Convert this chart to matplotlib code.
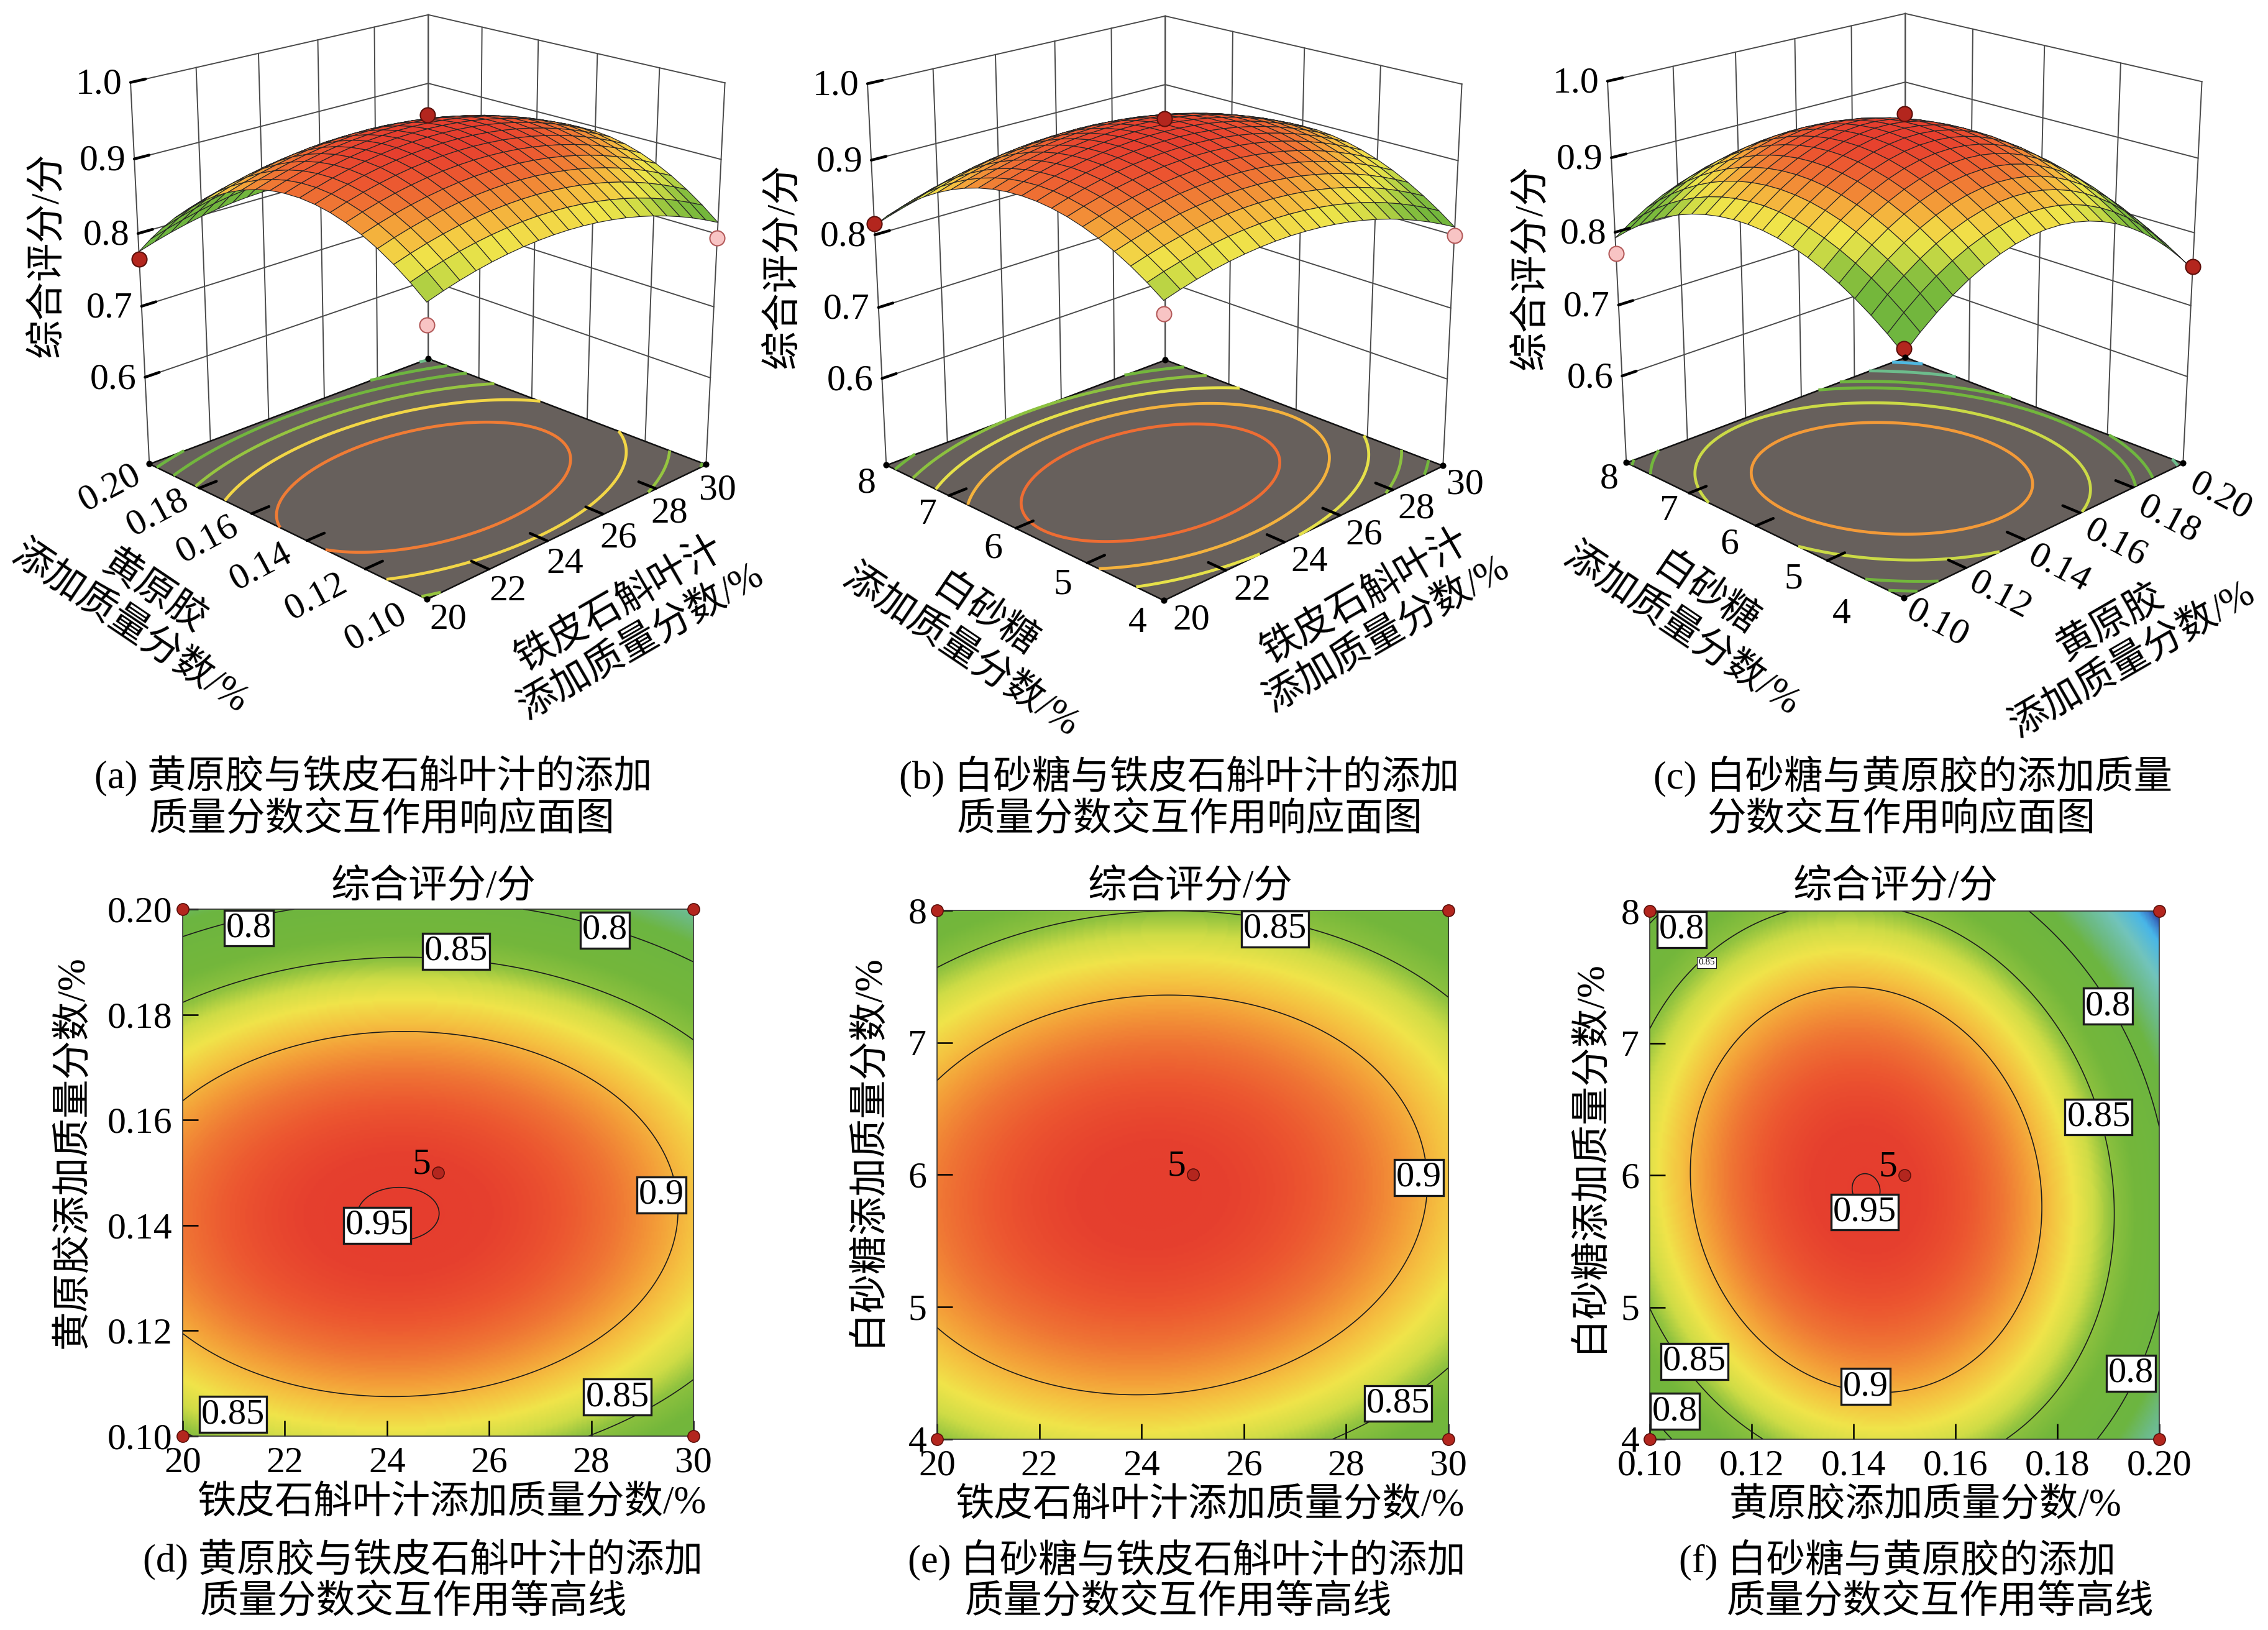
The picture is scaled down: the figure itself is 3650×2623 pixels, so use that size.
import numpy as np
import matplotlib
matplotlib.use("Agg")
import matplotlib.pyplot as plt
from matplotlib.colors import LinearSegmentedColormap, Normalize
from mpl_toolkits.mplot3d import proj3d
from mpl_toolkits.mplot3d.art3d import Poly3DCollection

plt.rcParams['font.family'] = ['Liberation Serif', 'Noto Sans CJK SC']
plt.rcParams['axes.unicode_minus'] = False

W, H, DPI = 3650, 2623, 100
fig = plt.figure(figsize=(W / DPI, H / DPI), dpi=DPI, facecolor='white')

# ------------------------------------------------------------------ data
A_lim = (20.0, 30.0)      # 铁皮石斛叶汁添加质量分数/%
B_lim = (0.10, 0.20)      # 黄原胶添加质量分数/%
C_lim = (4.0, 8.0)        # 白砂糖添加质量分数/%
A_ticks = [20, 22, 24, 26, 28, 30]
B_ticks = [0.10, 0.12, 0.14, 0.16, 0.18, 0.20]
C_ticks = [4, 5, 6, 7, 8]
Z_ticks = [0.6, 0.7, 0.8, 0.9, 1.0]
Z_floor, Z_top = 0.4747, 1.0

# quadratic response-surface model (coded units)
b0 = 0.9475
b_lin = [-0.0128, -0.033, -0.012]      # A, B, C
b_int = [0.003, 0.007, -0.0163]        # AB, AC, BC
b_sq = [-0.0426, -0.1065, -0.086]      # A^2, B^2, C^2

# design points shown on the 3-D plots (actual scores)
pts_a_x = [20, 20, 30, 30, 25]
pts_a_y = [0.20, 0.10, 0.10, 0.20, 0.15]
pts_a_z = [0.765, 0.82, 0.795, 0.75, 0.958]
pts_a_up = [1, 0, 0, 0, 1]

pts_b_x = [20, 20, 30, 30, 25]
pts_b_y = [8, 4, 4, 8, 6]
pts_b_z = [0.815, 0.835, 0.80, 0.79, 0.955]
pts_b_up = [1, 0, 0, 0, 1]

pts_c_x = [0.10, 0.10, 0.20, 0.20, 0.15]
pts_c_y = [8, 4, 4, 8, 6]
pts_c_z = [0.771, 0.79, 0.754, 0.69, 0.958]
pts_c_up = [0, 1, 1, 0, 1]

# contour levels projected on the floor of each 3-D plot
floor_levels_a = [0.762, 0.79, 0.82, 0.853, 0.886, 0.918]
floor_levels_b = [0.826, 0.850, 0.875, 0.900, 0.924]
floor_levels_c = [0.72, 0.76, 0.80, 0.822, 0.865, 0.907]

# contour labels shown on the 2-D plots: (value, x, y)
lab_d_val = ['0.8', '0.8', '0.85', '0.9', '0.95', '0.85', '0.85']
lab_d_x = [21.29, 28.27, 25.35, 29.37, 23.81, 20.98, 28.51]
lab_d_y = [0.1964, 0.1960, 0.1920, 0.1458, 0.1400, 0.1041, 0.1074]
lab_e_val = ['0.85', '0.9', '0.85']
lab_e_x = [26.61, 29.42, 29.02]
lab_e_y = [7.86, 5.98, 4.27]
lab_f_val = ['0.8', '0.8', '0.85', '0.95', '0.9', '0.85', '0.8', '0.8']
lab_f_x = [0.1063, 0.1899, 0.1881, 0.1422, 0.1424, 0.1088, 0.1049, 0.1944]
lab_f_y = [7.86, 7.28, 6.44, 5.72, 4.40, 4.59, 4.21, 4.50]
lab_f_small_val = ['0.85']
lab_f_small_x = [0.1112]
lab_f_small_y = [7.61]

# colour scale
cm_vals = [0.665, 0.695, 0.705, 0.715, 0.740, 0.765, 0.785, 0.832, 0.852,
           0.866, 0.880, 0.895, 0.908, 0.921, 0.934, 0.946, 0.960]
cm_cols = ['#28348e', '#2a3a94', '#3d80cc', '#48b6e8', '#72c4bc', '#6cba80',
           '#6cb541', '#74b73b', '#8fc23f', '#cfdc46', '#f0e44a', '#f5c040',
           '#f39a38', '#ef7434', '#ec5530', '#e6402e', '#e43a2e']
vmin, vmax = cm_vals[0], cm_vals[-1]
cmap = LinearSegmentedColormap.from_list(
    'de', [((v - vmin) / (vmax - vmin), c) for v, c in zip(cm_vals, cm_cols)])
norm = Normalize(vmin, vmax)

FLOOR_COLOR = '#67605c'
RED, RED_E = '#b3261e', '#5c0f0a'
PINK, PINK_E = '#f8c4c4', '#b35a5a'
FS = 43
FSC = 45


def coded(v, lim):
    return (v - (lim[0] + lim[1]) / 2) / ((lim[1] - lim[0]) / 2)


def predict(A, B, C):
    a, b, c = coded(A, A_lim), coded(B, B_lim), coded(C, C_lim)
    return (b0 + b_lin[0] * a + b_lin[1] * b + b_lin[2] * c
            + b_int[0] * a * b + b_int[1] * a * c + b_int[2] * b * c
            + b_sq[0] * a * a + b_sq[1] * b * b + b_sq[2] * c * c)


A0, B0, C0 = np.mean(A_lim), np.mean(B_lim), np.mean(C_lim)
f_ab = lambda x, y: predict(x, y, C0)     # x = A, y = B
f_ac = lambda x, y: predict(x, B0, y)     # x = A, y = C
f_bc = lambda x, y: predict(A0, x, y)     # x = B, y = C


def ftxt(x, y, s, **kw):
    kw.setdefault('fontsize', FS)
    kw.setdefault('ha', 'center')
    kw.setdefault('va', 'center')
    fig.text(x / W, 1 - y / H, s, **kw)


def to_px(ax, x, y, z):
    M = ax.get_proj()
    xs, ys, _ = proj3d.proj_transform(np.atleast_1d(np.asarray(x, float)),
                                      np.atleast_1d(np.asarray(y, float)),
                                      np.atleast_1d(np.asarray(z, float)), M)
    d = ax.transData.transform(np.column_stack([xs, ys]))
    return d[:, 0], H - d[:, 1]


# ---------------- where the box corners sit in panel (a) (image pixels)
def box_pts(x0, x1, y0, y1):
    return np.array([[x0, y1, Z_floor], [x1, y0, Z_floor], [x0, y0, Z_floor],
                     [x1, y1, Z_floor], [x0, y1, Z_top], [x1, y1, Z_top],
                     [x1, y0, Z_top], [x0, y1, 0.6]])


box_target = np.array([[240, 749], [1133, 746], [689, 965], [690, 579],
                       [211, 132], [690, 23], [1168, 136], [231, 601]], float)


def sim_fit(P, Q):
    Qf = Q * np.array([1.0, -1.0])
    pm, qm = P.mean(0), Qf.mean(0)
    s = ((P - pm) * (Qf - qm)).sum() / ((P - pm) ** 2).sum()
    t = qm - s * pm
    return s, t, ((s * P + t - Qf) ** 2).sum()


def proj2(ax, P):
    xs, ys, _ = proj3d.proj_transform(P[:, 0], P[:, 1], P[:, 2], ax.get_proj())
    return np.column_stack([xs, ys])


def set_view(ax, prm):
    e, f, bz, az = prm
    ax.view_init(elev=e, azim=az)
    ax.set_box_aspect((1, 1, bz))
    ax.set_proj_type('persp', focal_length=f)


# search the camera (elevation, focal length, box height, azimuth)
_tmp = fig.add_axes([0.0, 0.5, 0.3, 0.3 * W / H], projection='3d')
_tmp.set_xlim(*A_lim)
_tmp.set_ylim(*B_lim)
_tmp.set_zlim(Z_floor, Z_top)
_P = box_pts(A_lim[0], A_lim[1], B_lim[0], B_lim[1])


def cost(prm):
    set_view(_tmp, prm)
    return sim_fit(proj2(_tmp, _P), box_target)[2]


prm = np.array([24.0, 0.6, 1.0, -135.0])
steps = np.array([3.0, 0.2, 0.08, 2.0])
lo = np.array([5.0, 0.12, 0.5, -150.0])
hi = np.array([45.0, 5.0, 2.0, -120.0])
best = cost(prm)
for _ in range(14):
    improved = True
    while improved:
        improved = False
        for i in range(4):
            for sgn in (1, -1):
                trial = prm.copy()
                trial[i] = np.clip(trial[i] + sgn * steps[i], lo[i], hi[i])
                c = cost(trial)
                if c < best - 1e-9:
                    best, prm, improved = c, trial, True
    steps = steps / 2
VIEW = prm
fig.delaxes(_tmp)


def panel3d(xlim, ylim, xt, yt, f, px, py, pz, pup, flv, shift):
    ax = fig.add_axes([0.0, 0.5, 0.3, 0.3 * W / H], projection='3d')
    ax.set_axis_off()
    ax.computed_zorder = False
    x0, x1 = xlim
    y0, y1 = ylim
    ax.set_xlim(x0, x1)
    ax.set_ylim(y0, y1)
    ax.set_zlim(Z_floor, Z_top)
    set_view(ax, VIEW)

    gl = dict(color='#4a4a4a', lw=1.4, zorder=0.5)
    for xv in xt:
        ax.plot([xv, xv], [y1, y1], [Z_floor, Z_top], **gl)
    for yv in yt:
        ax.plot([x1, x1], [yv, yv], [Z_floor, Z_top], **gl)
    for zv in Z_ticks:
        ax.plot([x0, x1], [y1, y1], [zv, zv], **gl)
        ax.plot([x1, x1], [y0, y1], [zv, zv], **gl)

    floor = Poly3DCollection([[(x0, y0, Z_floor), (x1, y0, Z_floor),
                               (x1, y1, Z_floor), (x0, y1, Z_floor)]],
                             facecolors=FLOOR_COLOR, edgecolors='#111111',
                             linewidths=1.8)
    ax.add_collection3d(floor)
    floor.set_zorder(1)

    Xg, Yg = np.meshgrid(np.linspace(x0, x1, 161), np.linspace(y0, y1, 161))
    Zg = f(Xg, Yg)
    lv = [l for l in flv if Zg.min() < l < Zg.max()]
    cs = ax.contour(Xg, Yg, Zg, levels=lv, zdir='z', offset=Z_floor,
                    colors=[cmap(norm(l)) for l in lv], linewidths=3.4)
    cs.set_zorder(2)

    n = 21
    xs = np.linspace(x0, x1, n)
    ys = np.linspace(y0, y1, n)
    Xs, Ys = np.meshgrid(xs, ys)
    Zs = f(Xs, Ys)
    Zc = f(*np.meshgrid((xs[:-1] + xs[1:]) / 2, (ys[:-1] + ys[1:]) / 2))
    Zc = np.pad(Zc, ((0, 1), (0, 1)), mode='edge')
    surf = ax.plot_surface(Xs, Ys, Zs, facecolors=cmap(norm(Zc)), rstride=1,
                           cstride=1, edgecolor='#262626', linewidth=0.85,
                           shade=False, antialiased=True)
    surf.set_zorder(3)

    for x, y, z, up in zip(px, py, pz, pup):
        hidden = (x == x1 and y == y1)
        ax.scatter([x], [y], [z], s=300, c=RED if up else PINK,
                   edgecolors=RED_E if up else PINK_E, linewidths=1.5,
                   depthshade=False, zorder=2.8 if hidden else 4)

    tk = dict(color='k', lw=3.2, zorder=5, solid_capstyle='round')
    dx, dy = x1 - x0, y1 - y0
    for zv in Z_ticks:
        ax.plot([x0, x0 + 0.045 * dx], [y1, y1], [zv, zv], **tk)
    for yv in yt[1:-1]:
        ax.plot([x0, x0 + 0.055 * dx], [yv, yv], [Z_floor, Z_floor], **tk)
    for xv in xt[1:-1]:
        ax.plot([xv, xv], [y0, y0 + 0.055 * dy], [Z_floor, Z_floor], **tk)
    ax.scatter([x0, x1, x1, x0], [y0, y0, y1, y1], [Z_floor] * 4, s=40,
               c='k', depthshade=False, zorder=5)

    # place the axes so that the box corners land on their target pixels
    P = box_pts(x0, x1, y0, y1)
    Q = box_target + np.array(shift, float)
    for _ in range(3):
        fig.canvas.draw()
        u, v = to_px(ax, P[:, 0], P[:, 1], P[:, 2])
        U = np.column_stack([u, v])
        um, qm = U.mean(0), Q.mean(0)
        sg = ((U - um) * (Q - qm)).sum() / ((U - um) ** 2).sum()
        tau = qm - sg * um
        pos = ax.get_position()
        cx = (pos.x0 + pos.width / 2) * W
        cy = (1 - (pos.y0 + pos.height / 2)) * H
        ncx, ncy = sg * cx + tau[0], sg * cy + tau[1]
        wpx = pos.width * W * sg
        ax.set_position([(ncx - wpx / 2) / W, 1 - (ncy + wpx / 2) / H,
                         wpx / W, wpx / H])
    fig.canvas.draw()
    return ax


def fmt_num(v):
    if isinstance(v, float) and v < 1:
        return f'{v:.2f}'
    return f'{int(v)}'


def label3d(ax, xlim, ylim, xt, yt, loff, lrot, roff, rrot):
    x0, x1 = xlim
    y0, y1 = ylim
    for zv in Z_ticks:
        u, v = to_px(ax, x0, y1, zv)
        ftxt(u[0] - 14, v[0] + 4, f'{zv:.1f}', ha='right')
    for yv, o in zip(yt, loff):
        u, v = to_px(ax, x0, yv, Z_floor)
        ftxt(u[0] + o[0], v[0] + o[1], fmt_num(yv), rotation=lrot)
    for xv, o in zip(xt, roff):
        u, v = to_px(ax, xv, y0, Z_floor)
        ftxt(u[0] + o[0], v[0] + o[1], fmt_num(xv), rotation=rrot)


def lerp_off(a, b, n):
    return [(a[0] + (b[0] - a[0]) * i / (n - 1), a[1] + (b[1] - a[1]) * i / (n - 1))
            for i in range(n)]


# ---------------------------------------------------------------- 3-D
ax_a = panel3d(A_lim, B_lim, A_ticks, B_ticks, f_ab, pts_a_x, pts_a_y, pts_a_z,
               pts_a_up, floor_levels_a, (0, 0))
label3d(ax_a, A_lim, B_lim, A_ticks, B_ticks,
        lerp_off((-82, 46), (-63, 39), 6), 28, lerp_off((34, 34), (19, 42), 6), 0)
ax_b = panel3d(A_lim, C_lim, A_ticks, C_ticks, f_ac, pts_b_x, pts_b_y, pts_b_z,
               pts_b_up, floor_levels_b, (1186, 2))
label3d(ax_b, A_lim, C_lim, A_ticks, C_ticks,
        lerp_off((-42, 37), (-32, 30), 5), 0, lerp_off((44, 33), (36, 31), 6), 0)
ax_c = panel3d(B_lim, C_lim, B_ticks, C_ticks, f_bc, pts_c_x, pts_c_y, pts_c_z,
               pts_c_up, floor_levels_c, (2377, -2))
label3d(ax_c, B_lim, C_lim, B_ticks, C_ticks,
        [(-100, 27), (-54, 31), (-43, 31), (-32, 30), (-28, 27)], 0,
        lerp_off((54, 42), (60, 55), 6), -28)

ZLAB = '综合评分/分'
for x, y in [(76, 410), (1260, 428), (2464, 430)]:
    ftxt(x, y, ZLAB, rotation=90, fontsize=FSC)

LBL = dict(fontsize=FSC, linespacing=1.25, multialignment='center',
           rotation_mode='anchor')
ftxt(228, 983, '黄原胶\n添加质量分数/%', rotation=-34, **LBL)
ftxt(1015, 1004, '铁皮石斛叶汁\n添加质量分数/%', rotation=30, **LBL)
ftxt(1565, 1021, '白砂糖\n添加质量分数/%', rotation=-34, **LBL)
ftxt(2215, 992, '铁皮石斛叶汁\n添加质量分数/%', rotation=30, **LBL)
ftxt(2725, 987, '白砂糖\n添加质量分数/%', rotation=-34, **LBL)
ftxt(3415, 1033, '黄原胶\n添加质量分数/%', rotation=30, **LBL)

# ---------------------------------------------------------------- 2-D
BOX = dict(boxstyle='square,pad=0.05', fc='white', ec='#1a1a1a', lw=2.4)


def panel2d(rect, xlim, ylim, xt, yt, f, lv_, lx, ly, small=None):
    l, t, r, b = rect
    ax = fig.add_axes([l / W, 1 - b / H, (r - l) / W, (b - t) / H])
    xg = np.linspace(*xlim, 301)
    yg = np.linspace(*ylim, 301)
    Xg, Yg = np.meshgrid(xg, yg)
    Zg = f(Xg, Yg)
    ax.imshow(Zg, extent=[*xlim, *ylim], origin='lower', cmap=cmap, norm=norm,
              aspect='auto', interpolation='bilinear', zorder=0)
    levels = sorted(set(float(s) for s in lv_))
    ax.contour(Xg, Yg, Zg, levels=levels, colors='#1c1c1c', linewidths=1.2,
               zorder=2)
    for s, x, y in zip(lv_, lx, ly):
        ax.text(x, y, s, ha='center', va='center', fontsize=42, bbox=BOX,
                zorder=5, clip_on=False)
    if small:
        for s, x, y in zip(*small):
            ax.text(x, y, s, ha='center', va='center', fontsize=11,
                    bbox=dict(boxstyle='square,pad=0.15', fc='white',
                              ec='#1a1a1a', lw=0.8), zorder=5)
    ax.set_xlim(*xlim)
    ax.set_ylim(*ylim)
    ax.set_xticks(xt)
    ax.set_xticklabels([fmt_num(v) for v in xt])
    ax.set_yticks(yt)
    ax.set_yticklabels([fmt_num(v) for v in yt])
    ax.tick_params(direction='in', length=18, width=1.8, labelsize=FS, pad=12,
                   colors='k', top=False, right=False)
    for sp in ax.spines.values():
        sp.set_linewidth(1.2)
        sp.set_color('#333333')
    xc, yc = np.mean(xlim), np.mean(ylim)
    ax.scatter([xlim[0], xlim[0], xlim[1], xlim[1], xc],
               [ylim[0], ylim[1], ylim[0], ylim[1], yc],
               s=190, c=RED, edgecolors=RED_E, linewidths=1.2, zorder=6,
               clip_on=False)
    ax.annotate('5', (xc, yc), xytext=(-19, 9), textcoords='offset points',
                ha='center', va='center', fontsize=FS, zorder=7)
    return ax


panel2d((294, 1463, 1116, 2311), A_lim, B_lim, A_ticks, B_ticks, f_ab,
        lab_d_val, lab_d_x, lab_d_y)
panel2d((1508, 1465, 2331, 2316), A_lim, C_lim, A_ticks, C_ticks, f_ac,
        lab_e_val, lab_e_x, lab_e_y)
panel2d((2655, 1466, 3475, 2316), B_lim, C_lim, B_ticks, C_ticks, f_bc,
        lab_f_val, lab_f_x, lab_f_y,
        small=(lab_f_small_val, lab_f_small_x, lab_f_small_y))

for x in (698, 1916, 3051):
    ftxt(x, 1428, '综合评分/分', fontsize=FSC)
ftxt(727, 2420, '铁皮石斛叶汁添加质量分数/%', fontsize=FSC)
ftxt(1947, 2424, '铁皮石斛叶汁添加质量分数/%', fontsize=FSC)
ftxt(3098, 2424, '黄原胶添加质量分数/%', fontsize=FSC)
ftxt(119, 1854, '黄原胶添加质量分数/%', rotation=90, fontsize=FSC)
ftxt(1395, 1850, '白砂糖添加质量分数/%', rotation=90, fontsize=FSC)
ftxt(2557, 1860, '白砂糖添加质量分数/%', rotation=90, fontsize=FSC)

# captions
cap = [
    (152, 1249, '(a) 黄原胶与铁皮石斛叶汁的添加', 240, 1321, '质量分数交互作用响应面图'),
    (1447, 1249, '(b) 白砂糖与铁皮石斛叶汁的添加', 1540, 1321, '质量分数交互作用响应面图'),
    (2661, 1249, '(c) 白砂糖与黄原胶的添加质量', 2747, 1321, '分数交互作用响应面图'),
    (230, 2510, '(d) 黄原胶与铁皮石斛叶汁的添加', 322, 2580, '质量分数交互作用等高线'),
    (1461, 2510, '(e) 白砂糖与铁皮石斛叶汁的添加', 1553, 2580, '质量分数交互作用等高线'),
    (2702, 2510, '(f) 白砂糖与黄原胶的添加', 2779, 2580, '质量分数交互作用等高线'),
]
for x1_, y1_, s1, x2_, y2_, s2 in cap:
    ftxt(x1_, y1_, s1, ha='left', fontsize=FSC)
    ftxt(x2_, y2_, s2, ha='left', fontsize=FSC)

fig.savefig('out.png', dpi=DPI, facecolor='white')
